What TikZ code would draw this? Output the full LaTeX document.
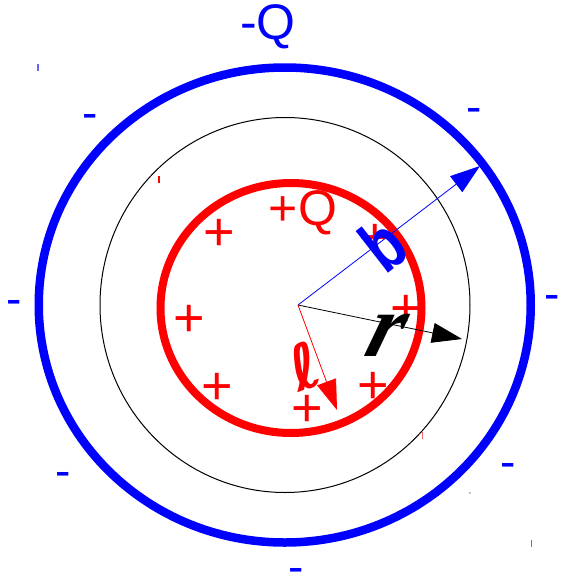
\documentclass[tikz,border=0pt]{standalone}
\usepackage{fontspec}
\setmainfont{Liberation Sans}
\newfontfamily\djv{DejaVu Sans}
\newfontfamily\lserif{Liberation Serif}
\usetikzlibrary{arrows.meta,shapes.geometric}
\newcommand\fsz[1]{\fontsize{#1}{#1}\selectfont}
\begin{document}
\begin{tikzpicture}[x=1pt,y=-1pt,
  minus/.style={text=blue, font=\fsz{46}, inner sep=0pt},
  plus/.style={text=red, font=\fsz{54}, inner sep=0pt},
  ring/.style={ellipse, inner sep=0pt},
  vec/.style={line width=0.8pt, -{Triangle[length=30pt,width=20pt]}},
  tick/.style={line width=1.5pt}]
\useasboundingbox (0,0) rectangle (562,574);
% rings
\node[ring, draw=blue, line width=8.5pt, minimum width=492pt, minimum height=475pt] (outer) at (284.75,305) {};
\node[ring, draw=black, line width=1pt, minimum width=370pt, minimum height=375pt] (gauss) at (285,305) {};
\node[ring, draw=red, line width=8pt, minimum width=261pt, minimum height=250pt] (inner) at (291,308) {};
% centre and vectors
\coordinate (O) at (298,305);
\coordinate (B) at (480,166);
\coordinate (K) at (462,339);
\coordinate (R) at (337,410);
\draw[vec, blue] (O) -- (B);
\draw[vec, black] (O) -- (K);
\draw[vec, red] (O) -- (R);
% labels
\node[text=blue, font=\fsz{50}, inner sep=0pt] (mq) at (268,27) {-Q};
\node[text=red, font=\fsz{50}, inner sep=0pt] (pq) at (303,213) {+Q};
% minus signs
\node[minus] (m1) at (90,121) {-};
\node[minus] (m2) at (474,115) {-};
\node[minus] (m3) at (14.5,307) {-};
\node[minus] (m4) at (552,302) {-};
\node[minus] (m5) at (63,479) {-};
\node[minus] (m6) at (508.5,470) {-};
\node[minus] (m7) at (296,571) {\raisebox{-11.5pt}[0pt][0pt]{-}};
% plus signs
\node[plus] (p1) at (219.5,234.5) {+};
\node[plus] (p2) at (189.5,320.5) {+};
\node[plus] (p3) at (217.5,389) {+};
\node[plus] (p4) at (375,240) {+};
\node[plus] (p5) at (406,311) {+};
\node[plus] (p6) at (373,388) {+};
\node[plus] (p7) at (307,411) {+};
% symbols
\node[text=blue, font=\bfseries\fsz{56}, inner sep=0pt, rotate=38] (rho) at (383,244) {\scalebox{1}[1.3]{b}};
\node[text=red, font=\djv\bfseries\fsz{62}, inner sep=0pt, rotate=20] (ell) at (305,366) {ℓ};
\node[text=black, font=\lserif\bfseries\itshape\fsz{90}, inner sep=0pt, xslant=0.3] (rr) at (386,335) {r};
% stray marks
\draw[tick, blue!60] (37.8,64) -- (37.8,71);
\draw[tick, red] (159,176) -- (159,183);
\draw[tick, red!60] (422.7,432) -- (422.7,439);
\draw[tick, blue!60] (531.7,540) -- (531.7,547);
\fill[gray] (470,493) circle (0.8pt);
\end{tikzpicture}
\end{document}
